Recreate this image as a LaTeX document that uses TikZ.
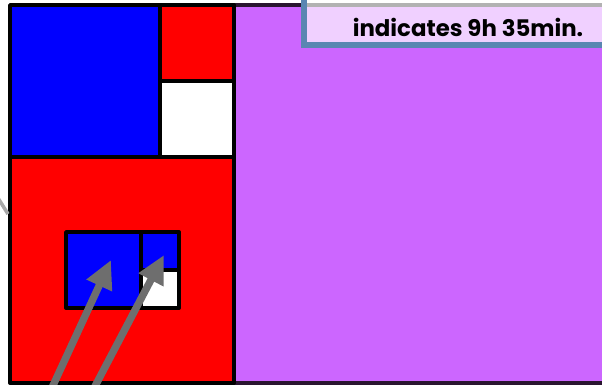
\documentclass[tikz,border=0pt]{standalone}
\usepackage{fontspec}
\setmainfont{Poppins}
\usepackage{xcolor}
\usetikzlibrary{arrows.meta}

\definecolor{lilac}{HTML}{CC66FF}
\definecolor{paleLilac}{HTML}{F0D0FF}
\definecolor{frameBlue}{HTML}{5A86B2}
\definecolor{arrowGray}{HTML}{6E6E6E}
\definecolor{darkEdge}{HTML}{2A1530}

\begin{document}
\begin{tikzpicture}[x=0.02cm, y=-0.02cm,
    cell/.style={draw=black, line width=2.2pt, line join=round},
    pointer/.style={draw=arrowGray, line width=4.2pt,
      -{Triangle[length=16pt, width=15pt]}},
    note/.style={fill=paleLilac, draw=frameBlue, line width=3pt}]

    \useasboundingbox (0,0) rectangle (602,385);
    \clip (0,0) rectangle (602,385);

    % purple area on the right
    \fill[lilac] (233,5) rectangle (615,383);
    \draw[darkEdge, line width=2pt] (233,5) -- (615,5);
    \draw[darkEdge, line width=2pt] (233,383) -- (615,383);

    % top left part
    \draw[cell, fill=blue] (10,5) rectangle (160,157);
    \draw[cell, fill=red] (160,5) rectangle (234,81);
    \draw[cell, fill=white] (160,81) rectangle (234,157);

    % bottom left part
    \draw[cell, fill=red] (10,157) rectangle (234,383);

    % small copy inside
    \draw[cell, fill=blue] (66,232) rectangle (141,308);
    \draw[cell, fill=blue] (141,232) rectangle (179,270);
    \draw[cell, fill=white] (141,270) rectangle (179,308);
    \coordinate (inBig) at (111,260);
    \coordinate (inSmall) at (164,255);

    % arrows coming from below
    \coordinate (baseA) at (50,392);
    \coordinate (baseB) at (92,392);
    \draw[pointer] (baseA) -- (inBig);
    \draw[pointer] (baseB) -- (inSmall);

    % stray stroke on the left edge
    \coordinate (strayA) at (-2,198);
    \coordinate (strayB) at (8,214);
    \draw[arrowGray!60, line width=2pt] (strayA) -- (strayB);

    % callout box
    \draw[note] (304,-10) rectangle (620,45);
    \fill[white] (307,-10) rectangle (620,4);
    \draw[gray!60, line width=2pt] (307,5) -- (620,5);
    \node[font=\fontsize{13}{16}\selectfont\bfseries] (hint) at (468,27) {indicates 9h 35min.};
\end{tikzpicture}
\end{document}
